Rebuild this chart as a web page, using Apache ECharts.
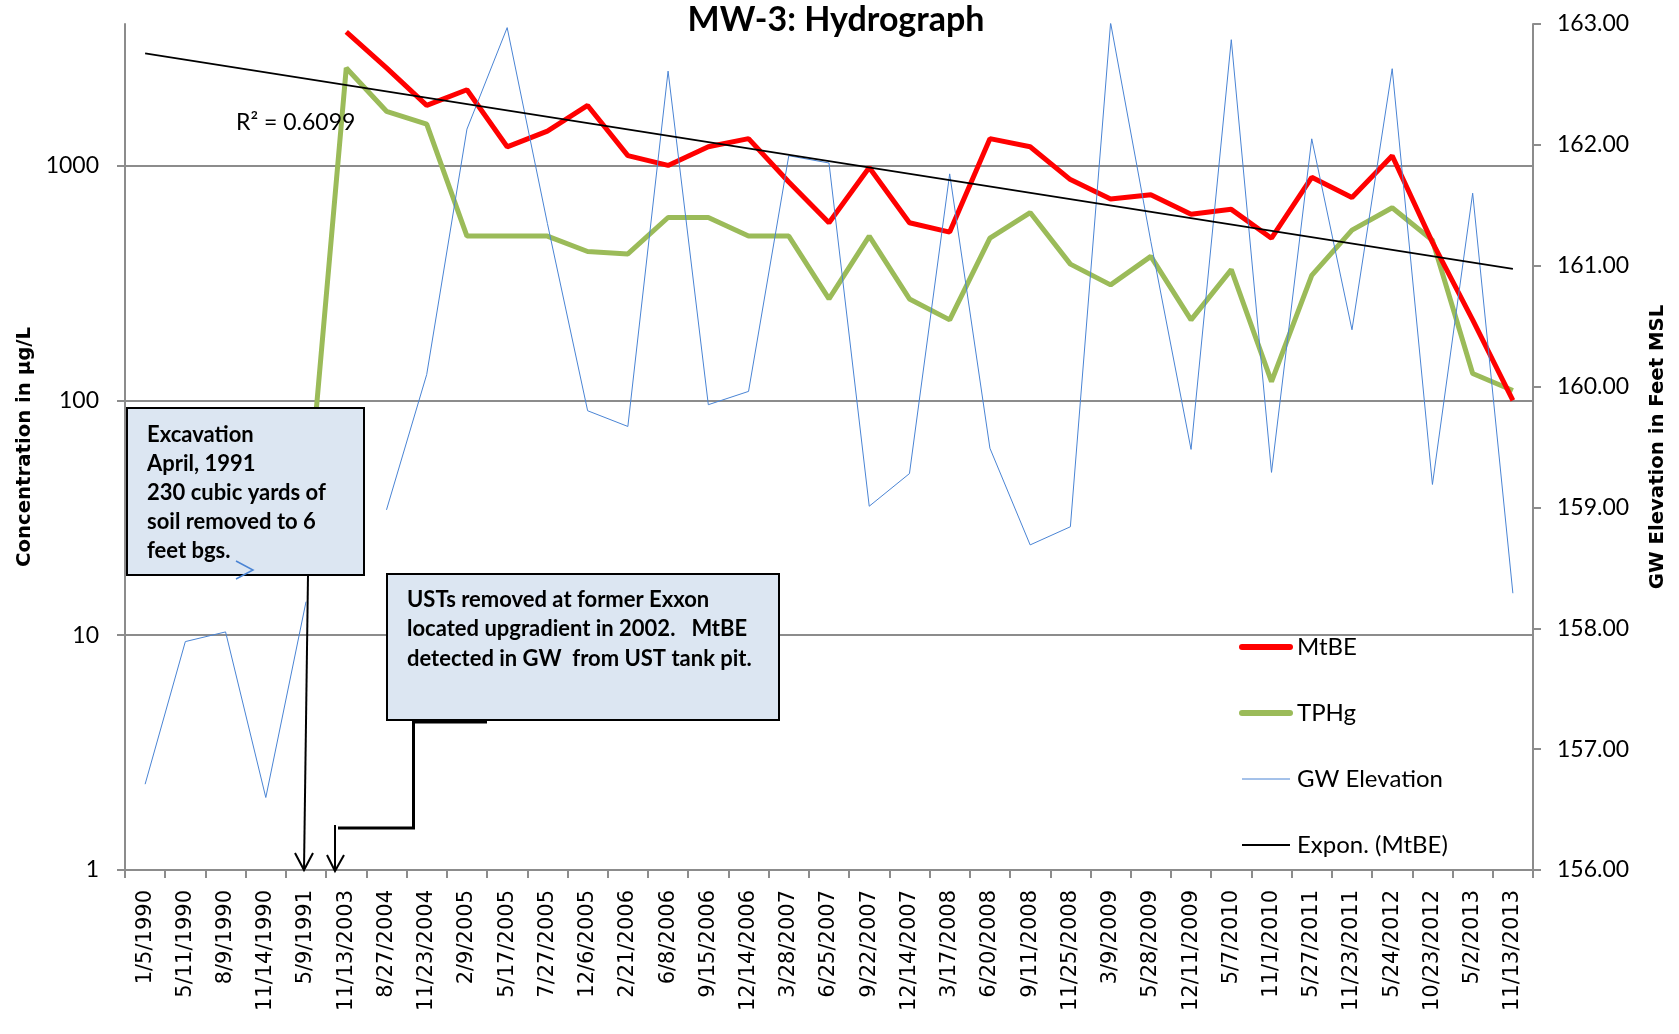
<!DOCTYPE html>
<html>
<head>
<meta charset="utf-8">
<title>MW-3: Hydrograph</title>
<script src="https://cdn.jsdelivr.net/npm/echarts@6/dist/echarts.min.js"></script>
<style>
  html, body { margin: 0; padding: 0; background: #fff; }
  #chart { width: 1679px; height: 1034px; }
</style>
</head>
<body>
<div id="chart"></div>
<script>
// sample dates (category axis)
const sampleDates = ['1/5/1990', '5/11/1990', '8/9/1990', '11/14/1990', '5/9/1991', '11/13/2003',
  '8/27/2004', '11/23/2004', '2/9/2005', '5/17/2005', '7/27/2005', '12/6/2005', '2/21/2006',
  '6/8/2006', '9/15/2006', '12/14/2006', '3/28/2007', '6/25/2007', '9/22/2007', '12/14/2007',
  '3/17/2008', '6/20/2008', '9/11/2008', '11/25/2008', '3/9/2009', '5/28/2009', '12/11/2009',
  '5/7/2010', '11/1/2010', '5/27/2011', '11/23/2011', '5/24/2012', '10/23/2012', '5/2/2013',
  '11/13/2013'];

// concentrations, ug/L (log axis)
const mtbe = [null, null, null, null, null, 3700, 2600, 1800, 2100, 1200, 1400, 1800, 1100,
  1000, 1200, 1300, 850, 570, 980, 570, 520, 1300, 1200, 870, 720, 750, 620, 650, 490, 890,
  730, 1100, 470, 220, 100];
const tphg = [null, null, null, null, 29, 2600, 1700, 1500, 500, 500, 500, 430, 420, 600, 600,
  500, 500, 270, 500, 270, 220, 490, 630, 380, 310, 410, 220, 360, 120, 340, 530, 660, 480,
  130, 110];

// groundwater elevation, feet MSL (right axis)
const gwElevation = [156.71, 157.89, 157.97, 156.60, 158.22, null, 158.98, 160.10, 162.13,
  162.97, 161.35, 159.80, 159.67, 162.61, 159.85, 159.96, 161.91, 161.85, 159.01, 159.28,
  161.76, 159.49, 158.69, 158.84, 163.01, 161.20, 159.48, 162.87, 159.29, 162.05, 160.47,
  162.63, 159.19, 161.60, 158.29];

// exponential trend of MtBE, first and last category
const trendEnds = [3000, 363];

const concTicks = [1, 10, 100, 1000];

const trend = sampleDates.map((d, i) =>
  i === 0 ? trendEnds[0] : (i === sampleDates.length - 1 ? trendEnds[1] : null));

const chart = echarts.init(document.getElementById('chart'));

const calibri = 'Lato';
const gridGray = '#8c8c8c';
const gwBlue = '#4a84d4';

const option = {
  backgroundColor: '#ffffff',
  animation: false,
  title: {
    text: 'MW-3: Hydrograph',
    left: 831,
    top: -2,
    textAlign: 'center',
    textStyle: { fontFamily: calibri, fontWeight: 'bold', fontSize: 34, color: '#000' }
  },
  grid: { left: 125, right: 146, top: 24, bottom: 164 },
  legend: {
    orient: 'vertical',
    left: 1234,
    top: 630,
    itemWidth: 48,
    itemHeight: 14,
    itemGap: 42,
    itemStyle: { opacity: 0 },
    textStyle: { fontFamily: calibri, fontSize: 24, color: '#000', padding: [0, 0, 0, 2] },
    data: [
      { name: 'MtBE', lineStyle: { width: 6, cap: 'round' } },
      { name: 'TPHg', lineStyle: { width: 6, cap: 'round' } },
      { name: 'GW Elevation', lineStyle: { width: 1 } },
      { name: 'Expon. (MtBE)', lineStyle: { width: 2 } }
    ]
  },
  xAxis: {
    type: 'category',
    data: sampleDates,
    boundaryGap: true,
    axisLine: { lineStyle: { color: gridGray, width: 2 } },
    axisTick: { show: true, interval: 0, length: 8, lineStyle: { color: gridGray, width: 2 } },
    axisLabel: {
      interval: 0,
      rotate: 90,
      margin: 20,
      fontFamily: 'DejaVu Sans',
      fontSize: 21,
      color: '#000'
    }
  },
  yAxis: [
    {
      type: 'log',
      logBase: 10,
      min: 1,
      max: 4000,
      name: 'Concentration in µg/L',
      nameLocation: 'middle',
      nameRotate: 90,
      nameGap: 90,
      nameTextStyle: { fontFamily: 'DejaVu Sans', fontWeight: 'bold', fontSize: 19.7, color: '#000' },
      axisLine: { show: true, lineStyle: { color: gridGray, width: 2 } },
      axisTick: { show: true, length: 8, lineStyle: { color: gridGray, width: 2 } },
      axisLabel: {
        showMaxLabel: false,
        margin: 26,
        fontFamily: calibri,
        fontSize: 23,
        color: '#000',
        formatter: v => concTicks.indexOf(Math.round(v)) >= 0 ? String(Math.round(v)) : ''
      },
      splitLine: { show: true, showMaxLine: false, lineStyle: { color: gridGray, width: 2 } },
      minorTick: { show: false }
    },
    {
      type: 'value',
      min: 156,
      max: 163,
      interval: 1,
      position: 'right',
      name: 'GW Elevation in Feet MSL',
      nameLocation: 'middle',
      nameRotate: 90,
      nameGap: 115,
      nameTextStyle: { fontFamily: 'DejaVu Sans', fontWeight: 'bold', fontSize: 19.7, color: '#000' },
      axisLine: { show: true, lineStyle: { color: gridGray, width: 2 } },
      axisTick: { show: true, length: 8, lineStyle: { color: gridGray, width: 2 } },
      axisLabel: {
        margin: 24,
        fontFamily: calibri,
        fontSize: 23,
        color: '#000',
        formatter: v => v.toFixed(2)
      },
      splitLine: { show: false }
    }
  ],
  series: [
    {
      name: 'MtBE',
      type: 'line',
      yAxisIndex: 0,
      data: mtbe,
      symbol: 'none',
      color: '#ff0000',
      lineStyle: { width: 5, color: '#ff0000' },
      z: 3
    },
    {
      name: 'TPHg',
      type: 'line',
      yAxisIndex: 0,
      data: tphg,
      symbol: 'none',
      color: '#9bbb59',
      lineStyle: { width: 5, color: '#9bbb59' },
      z: 2
    },
    {
      name: 'GW Elevation',
      type: 'line',
      yAxisIndex: 1,
      data: gwElevation,
      symbol: 'none',
      color: gwBlue,
      lineStyle: { width: 1, color: gwBlue },
      z: 4
    },
    {
      name: 'Expon. (MtBE)',
      type: 'line',
      yAxisIndex: 0,
      data: trend,
      connectNulls: true,
      symbol: 'none',
      color: '#000',
      lineStyle: { width: 1.8, color: '#000' },
      z: 5
    }
  ],
  graphic: [
    {
      type: 'text', z: 100,
      style: { text: 'R² = 0.6099', x: 236, y: 123, verticalAlign: 'middle',
        font: '23px Lato', fill: '#000' }
    },
    // excavation note
    {
      type: 'rect', z: 100,
      shape: { x: 127, y: 408, width: 237, height: 167 },
      style: { fill: '#dce6f2', stroke: '#000', lineWidth: 2 }
    },
    {
      type: 'text', z: 101,
      style: {
        text: 'Excavation\nApril, 1991\n230 cubic yards of\nsoil removed to 6\nfeet bgs.',
        x: 147, y: 420, font: 'bold 22px Lato', lineHeight: 29, fill: '#000'
      }
    },
    {
      type: 'polyline', z: 101,
      shape: { points: [[236, 561], [253, 570], [236, 579]] },
      style: { stroke: gwBlue, lineWidth: 1.5, fill: null }
    },
    {
      type: 'polyline', z: 101,
      shape: { points: [[308, 575], [304, 869]] },
      style: { stroke: '#000', lineWidth: 2, fill: null }
    },
    {
      type: 'polyline', z: 101,
      shape: { points: [[295, 853], [304, 870], [313, 853]] },
      style: { stroke: '#000', lineWidth: 2, fill: null }
    },
    // UST note
    {
      type: 'rect', z: 100,
      shape: { x: 387, y: 574, width: 392, height: 146 },
      style: { fill: '#dce6f2', stroke: '#000', lineWidth: 2 }
    },
    {
      type: 'text', z: 101,
      style: {
        text: 'USTs removed at former Exxon\nlocated upgradient in 2002.   MtBE\ndetected in GW  from UST tank pit.',
        x: 407, y: 585, font: 'bold 22px Lato', lineHeight: 29.5, fill: '#000'
      }
    },
    {
      type: 'polyline', z: 101,
      shape: { points: [[487, 722], [413.5, 722], [413.5, 828], [338, 828]] },
      style: { stroke: '#000', lineWidth: 3, fill: null }
    },
    {
      type: 'polyline', z: 101,
      shape: { points: [[335, 825], [335, 869]] },
      style: { stroke: '#000', lineWidth: 2, fill: null }
    },
    {
      type: 'polyline', z: 101,
      shape: { points: [[327, 855], [335, 871], [344, 855]] },
      style: { stroke: '#000', lineWidth: 2, fill: null }
    }
  ]
};

chart.setOption(option);
</script>
</body>
</html>
